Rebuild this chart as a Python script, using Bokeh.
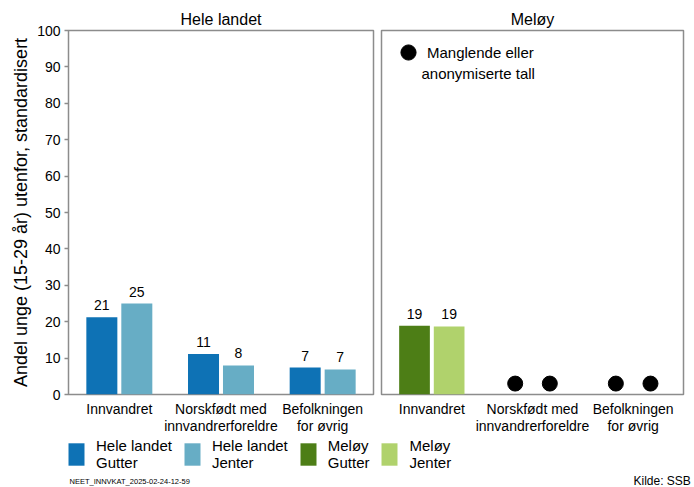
import math
from bokeh.plotting import figure
from bokeh.models import (ColumnDataSource, FactorRange, Range1d, Legend, LegendItem,
                          Label, FixedTicker)
from bokeh.transform import dodge
from bokeh.layouts import column, row
from bokeh.core.properties import value
from bokeh.embed import file_html
from bokeh.resources import INLINE

# ---------------- data ----------------
categories = ["Innvandret", "Norskfødt med\ninnvandrerforeldre", "Befolkningen\nfor øvrig"]
hele_gutter = [21.2, 11.1, 7.4]
hele_jenter = [25.0, 8.0, 6.9]
meloy_gutter = [18.9, float("nan"), float("nan")]
meloy_jenter = [18.7, float("nan"), float("nan")]
panel_titles = ["Hele landet", "Meløy"]
series_names = ["Hele landet\nGutter", "Hele landet\nJenter", "Meløy\nGutter", "Meløy\nJenter"]
series_colors = ["#0e72b5", "#67adc5", "#4d7e16", "#b0d26c"]
y_ticks = list(range(0, 101, 10))
y_label = "Andel unge (15-29 år) utenfor, standardisert"
missing_label_1 = "Manglende eller"
missing_label_2 = "anonymiserte tall"
missing_mark_y = 3
footer_id = "NEET_INNVKAT_2025-02-24-12-59"
footer_source = "Kilde: SSB"

FONT = "Liberation Sans"
OFF = 0.172
BAR_W = 0.305
FRAME_H = 364


def make_panel(title, gutter, jenter, colors, first, frame_w):
    p = figure(x_range=FactorRange(*categories), y_range=Range1d(0, 100),
               frame_width=frame_w, frame_height=FRAME_H,
               output_backend="svg", toolbar_location=None, title=title,
               min_border_left=68 if first else 4, min_border_right=4 if first else 11,
               min_border_top=30, min_border_bottom=42)
    p.title.align = "center"
    p.title.text_font = FONT
    p.title.text_font_size = "16px"
    p.title.text_font_style = "normal"
    p.title.text_color = "black"
    p.title.standoff = 6
    p.outline_line_color = "#8c8c8c"
    p.outline_line_width = 1.5
    p.xgrid.visible = False
    p.ygrid.visible = False
    p.background_fill_color = "white"
    p.border_fill_color = "white"

    xa = p.xaxis[0]
    xa.axis_line_color = None
    xa.major_tick_line_color = None
    xa.minor_tick_line_color = None
    xa.major_label_text_font = FONT
    xa.major_label_text_font_size = "14px"
    xa.major_label_text_color = "black"
    xa.major_label_standoff = 0
    xa.major_label_text_line_height = 1.1

    ya = p.yaxis[0]
    if first:
        ya.ticker = FixedTicker(ticks=y_ticks)
        ya.axis_line_color = None
        ya.major_tick_line_color = "#8c8c8c"
        ya.major_tick_line_width = 1.5
        ya.major_tick_out = 4
        ya.major_tick_in = 0
        ya.minor_tick_line_color = None
        ya.major_label_text_font = FONT
        ya.major_label_text_font_size = "14px"
        ya.major_label_text_color = "black"
        ya.major_label_standoff = 4
        ya.axis_label = y_label
        ya.axis_label_text_font = FONT
        ya.axis_label_text_font_size = "18px"
        ya.axis_label_text_font_style = "normal"
        ya.axis_label_text_color = "black"
        ya.axis_label_standoff = 3
    else:
        ya.visible = False

    src = ColumnDataSource(dict(cat=categories, g=gutter, j=jenter))
    p.vbar(x=dodge("cat", -OFF, range=p.x_range), top="g", width=BAR_W, bottom=0,
           source=src, fill_color=colors[0], line_color=None)
    p.vbar(x=dodge("cat", OFF, range=p.x_range), top="j", width=BAR_W, bottom=0,
           source=src, fill_color=colors[1], line_color=None)

    # value labels
    for vals, off in ((gutter, -OFF), (jenter, OFF)):
        cats = [c for c, v in zip(categories, vals) if not math.isnan(v)]
        vv = [v for v in vals if not math.isnan(v)]
        lab = [str(int(round(v))) for v in vv]
        ls = ColumnDataSource(dict(cat=cats, v=vv, t=lab))
        p.text(x=dodge("cat", off, range=p.x_range), y="v", text="t", source=ls,
               text_align="center", text_baseline="bottom", y_offset=-7,
               text_font=value(FONT), text_font_size="14px", text_color="black")

    # missing markers
    miss_renderers = []
    for vals, off in ((gutter, -OFF), (jenter, OFF)):
        cats = [c for c, v in zip(categories, vals) if math.isnan(v)]
        if cats:
            ms = ColumnDataSource(dict(cat=cats, y=[missing_mark_y] * len(cats)))
            r = p.scatter(x=dodge("cat", off, range=p.x_range), y="y", source=ms,
                          size=15, marker="circle", fill_color="black", line_color="black")
            miss_renderers.append(r)
    if miss_renderers:
        leg = Legend(items=[LegendItem(label=missing_label_1, renderers=[miss_renderers[0]])],
                     location=(8, FRAME_H - 41), glyph_width=38, glyph_height=38,
                     label_standoff=-11, padding=0, margin=0, border_line_color=None,
                     background_fill_alpha=0, label_text_font=FONT,
                     label_text_font_size="15px", label_text_color="black")
        p.add_layout(leg)
        p.add_layout(Label(x=40, y=FRAME_H - 43, x_units="screen", y_units="screen",
                           text=missing_label_2, text_font=FONT, text_font_size="15px",
                           text_baseline="middle", text_color="black"))
    return p


p1 = make_panel(panel_titles[0], hele_gutter, hele_jenter, series_colors[0:2], True, 305)
p2 = make_panel(panel_titles[1], meloy_gutter, meloy_jenter, series_colors[2:4], False, 302)

# legend / footer strip
P3_H = 51
p3 = figure(width=694, height=P3_H, x_range=Range1d(0, 1), y_range=Range1d(0, 1),
            output_backend="svg", toolbar_location=None, x_axis_type=None, y_axis_type=None,
            min_border=0, outline_line_color=None)
p3.xgrid.visible = False
p3.ygrid.visible = False
items = []
for name, col in zip(series_names, series_colors):
    # zero-height proxy bar, only used to draw the legend swatch
    r = p3.vbar(x=[0.5], top=[0], bottom=[0], width=0.01, fill_color=col, line_color=None)
    items.append(LegendItem(label=name, renderers=[r]))
leg3 = Legend(items=items, orientation="horizontal", location=(66, 17),
              glyph_width=20, glyph_height=28, label_standoff=10, spacing=10,
              padding=0, margin=0, border_line_color=None, background_fill_alpha=0,
              label_text_font=FONT, label_text_font_size="15px", label_text_color="black",
              label_text_line_height=1.05)
p3.add_layout(leg3)
p3.add_layout(Label(x=69, y=3, x_units="screen", y_units="screen", text=footer_id,
                    text_font=FONT, text_font_size="7.5px", text_baseline="bottom",
                    text_color="black"))
p3.add_layout(Label(x=633, y=1, x_units="screen", y_units="screen", text=footer_source,
                    text_font=FONT, text_font_size="12px", text_baseline="bottom",
                    text_align="left", text_color="black"))

layout = column(row(p1, p2, spacing=0), p3, spacing=0)
open("out.html", "w").write(file_html(layout, INLINE))
